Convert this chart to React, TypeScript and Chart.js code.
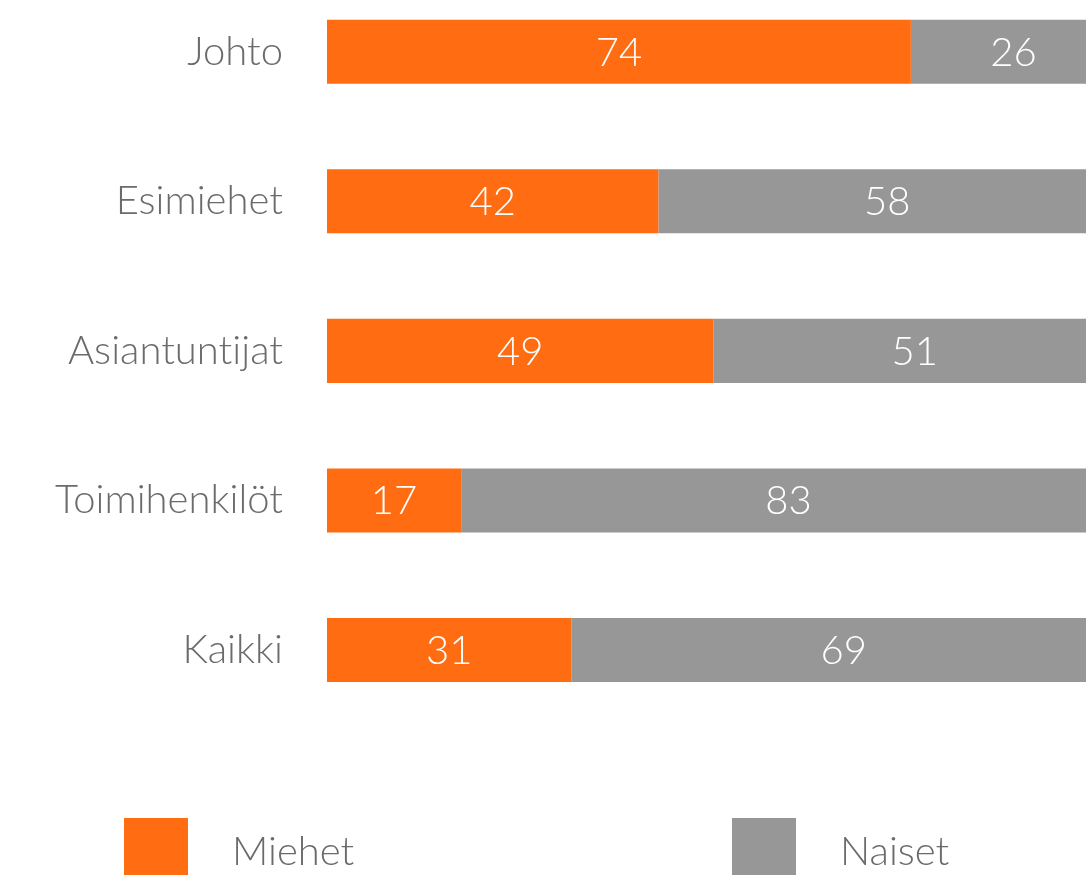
import React, { useEffect, useRef } from "react";
import { Chart, registerables } from "chart.js";

Chart.register(...registerables);

const categories = ["Johto", "Esimiehet", "Asiantuntijat", "Toimihenkilöt", "Kaikki"];
const miehet = [74, 42, 49, 17, 31];
const naiset = [26, 58, 51, 83, 69];
const seriesNames = ["Miehet", "Naiset"];

const ORANGE = "#FF6C12";
const GRAY = "#979797";
const TEXT = "#6b6b6b";
const FONT = "Lato";

const W = 1116;
const H = 900;
const OFFSET_Y = -23;

export default function App() {
  const ref = useRef<HTMLCanvasElement>(null);
  useEffect(() => {
    if (!ref.current) return;
    const noLig = {
      id: "noLig",
      beforeDraw(chart: any) {
        try {
          (chart.ctx as any).letterSpacing = "0.01px";
        } catch (e) {}
      },
    };
    const valueLabels = {
      id: "valueLabels",
      afterDatasetsDraw(chart: any) {
        const ctx = chart.ctx;
        ctx.save();
        ctx.fillStyle = "#ffffff";
        ctx.font = `300 40px ${FONT}`;
        ctx.textAlign = "center";
        ctx.textBaseline = "middle";
        chart.data.datasets.forEach((ds: any, di: number) => {
          const meta = chart.getDatasetMeta(di);
          meta.data.forEach((bar: any, i: number) => {
            const c = bar.getCenterPoint();
            ctx.fillText(String(ds.data[i]), c.x, c.y + 1);
          });
        });
        ctx.restore();
      },
    };
    const legendPlugin = {
      id: "customLegend",
      afterDraw(chart: any) {
        const ctx = chart.ctx;
        ctx.save();
        const items = [
          { x: 124, tx: 232, color: ORANGE, label: seriesNames[0] },
          { x: 732, tx: 840, color: GRAY, label: seriesNames[1] },
        ];
        const top = 818 - OFFSET_Y;
        items.forEach((it) => {
          ctx.fillStyle = it.color;
          ctx.fillRect(it.x, top, 64, 58);
          ctx.fillStyle = TEXT;
          ctx.font = `300 40px ${FONT}`;
          ctx.textAlign = "left";
          ctx.textBaseline = "middle";
          ctx.fillText(it.label, it.tx, 852 - OFFSET_Y);
        });
        ctx.restore();
      },
    };
    const chart = new Chart(ref.current, {
      type: "bar",
      data: {
        labels: categories,
        datasets: [
          { label: seriesNames[0], data: miehet, backgroundColor: ORANGE, borderWidth: 0 },
          { label: seriesNames[1], data: naiset, backgroundColor: GRAY, borderWidth: 0 },
        ],
      },
      options: {
        indexAxis: "y",
        responsive: false,
        animation: false,
        devicePixelRatio: 1,
        layout: { padding: { top: 0, right: 0, bottom: H - 747.75, left: 0 } },
        datasets: { bar: { categoryPercentage: 1, barPercentage: 64 / 149.5 } },
        plugins: { legend: { display: false }, tooltip: { enabled: false } },
        scales: {
          x: { stacked: true, min: 0, max: 100, display: false },
          y: {
            stacked: true,
            grid: { display: false, drawTicks: false },
            border: { display: false },
            ticks: {
              color: TEXT,
              padding: 44,
              font: { family: FONT, size: 40, weight: "300" },
            },
            afterFit(scale: any) {
              scale.width = 327;
              scale.paddingTop = 0;
              scale.paddingBottom = 0;
            },
          },
        },
      },
      plugins: [noLig, valueLabels, legendPlugin],
    } as any);
    return () => chart.destroy();
  }, []);
  return (
    <div style={{ position: "fixed", left: 0, top: 0, width: 1086, height: 875, overflow: "hidden", background: "#fff" }}>
      <canvas ref={ref} width={W} height={H} style={{ position: "absolute", left: 0, top: OFFSET_Y, width: W, height: H }} />
    </div>
  );
}
